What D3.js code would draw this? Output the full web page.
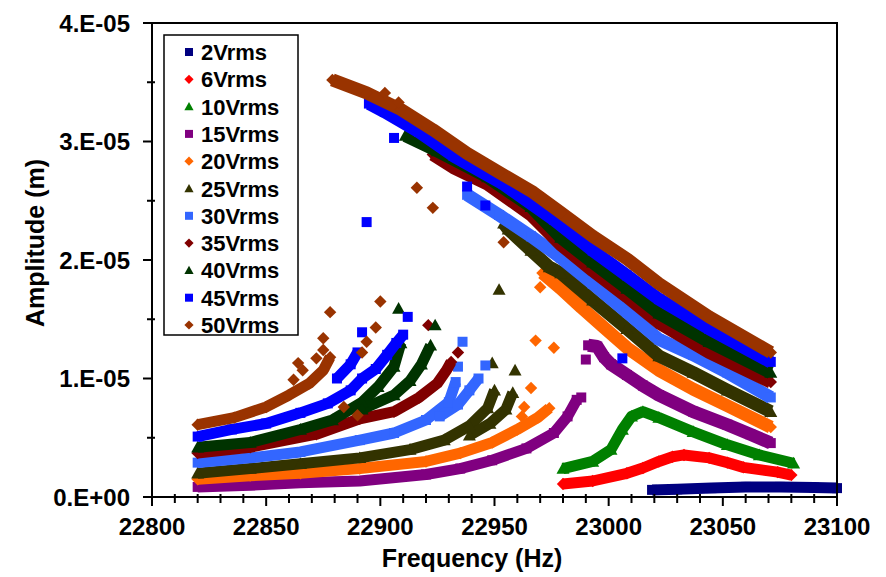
<!DOCTYPE html>
<html>
<head>
<meta charset="utf-8">
<script src="https://cdn.jsdelivr.net/npm/d3@7"></script>
<style>
  body { margin: 0; background: #fff; }
  text { font-family: "Liberation Sans", Arial, sans-serif; font-weight: bold; fill: #000; }
</style>
</head>
<body>
<div id="chart"></div>
<script>
// frequency in Hz, amplitude in units of 1E-05 m
const v2Sweep = [[23019,0.06],[23030,0.065],[23045,0.075],[23060,0.085],[23075,0.085],[23090,0.08],[23100,0.075]];
const v6Sweep = [[22980,0.11],[22993,0.135],[23008,0.20],[23015,0.245],[23022,0.30],[23028,0.34],[23033,0.355],[23044,0.33],[23052,0.29],[23059,0.25],[23074,0.21],[23080,0.185]];
const v10Sweep = [[22980,0.24],[22993,0.30],[23001,0.40],[23006,0.57],[23010,0.68],[23015,0.72],[23022,0.67],[23037,0.55],[23052,0.44],[23066,0.355],[23081,0.285]];

const v15Lower = [[22820,0.085],[22843,0.10],[22865,0.12],[22891,0.135],[22920,0.19],[22935,0.24],[22949,0.31],[22964,0.41],[22976,0.54],[22982,0.68],[22986,0.82]];
const v15Jump = [[22988,0.84],[22990,1.16]];
const v15Upper = [[22991,1.28],[22995,1.27],[22998,1.18],[23001,1.12],[23008,1.03],[23015,0.94],[23022,0.86],[23037,0.72],[23052,0.61],[23062,0.53],[23071,0.455]];

const v20Lower = [[22820,0.15],[22843,0.18],[22865,0.20],[22891,0.24],[22920,0.30],[22935,0.37],[22949,0.46],[22960,0.57],[22969,0.67],[22974,0.75]];
const v20Jump = [[22962,0.68],[22963,0.76],[22966,0.92],[22968,1.32],[22976,1.26],[22970,1.77]];
const v20Upper = [[22971,1.89],[22979,1.76],[22988,1.60],[22998,1.43],[23008,1.26],[23022,1.07],[23037,0.91],[23052,0.77],[23071,0.59]];

const v25Lower = [[22820,0.20],[22843,0.24],[22865,0.28],[22891,0.33],[22913,0.40],[22928,0.48],[22939,0.60],[22947,0.75],[22950,0.90]];
const v25Arm = [[22939,0.52],[22948,0.62],[22955,0.74],[22958,0.88]];
const v25Jump = [[22949,1.13],[22959,1.07],[22952,1.75]];
const v25Upper = [[22954,2.31],[22956,2.26],[22966,2.08],[22974,1.94],[22979,1.89],[22993,1.66],[23008,1.42],[23022,1.19],[23037,1.05],[23052,0.90],[23071,0.72]];

const v30Lower = [[22820,0.29],[22843,0.33],[22865,0.38],[22891,0.48],[22906,0.54],[22920,0.65],[22930,0.80],[22933,0.97]];
const v30Arm = [[22926,0.68],[22934,0.78],[22939,0.90],[22943,1.00]];
const v30Jump = [[22936,1.31],[22934,1.10],[22946,1.11]];
const v30Upper = [[22938,2.55],[22952,2.38],[22966,2.20],[22979,2.02],[22993,1.80],[23008,1.56],[23022,1.33],[23037,1.20],[23052,1.05],[23071,0.84]];

const v35Lower = [[22820,0.37],[22843,0.42],[22872,0.53],[22891,0.66],[22906,0.72],[22917,0.84],[22925,0.96],[22929,1.07],[22931,1.14]];
const v35Jump = [[22934,1.22],[22921,1.45]];
const v35Upper = [[22923,2.89],[22932,2.78],[22947,2.64],[22966,2.38],[22979,2.13],[22993,1.91],[23008,1.69],[23022,1.47],[23044,1.22],[23071,0.97]];

const v40Lower = [[22820,0.42],[22843,0.46],[22865,0.57],[22879,0.65],[22892,0.80],[22899,0.93],[22906,1.10],[22909,1.30]];
const v40Arm = [[22892,0.74],[22906,0.86],[22913,0.98],[22918,1.12],[22922,1.28]];
const v40Jump = [[22908,1.59],[22924,1.45]];
const v40Upper = [[22911,3.05],[22925,2.92],[22947,2.70],[22966,2.45],[22979,2.19],[22993,1.98],[23008,1.76],[23022,1.55],[23044,1.31],[23071,1.05]];

const v45Lower = [[22820,0.51],[22835,0.57],[22850,0.62],[22865,0.71],[22877,0.79],[22887,0.90],[22892,1.00],[22898,1.08],[22903,1.20],[22907,1.30],[22910,1.37]];
const v45Arm = [[22881,1.00],[22887,1.12],[22890,1.22]];
const v45Jump = [[22892,1.39],[22912,1.52],[22894,2.32],[22906,3.03],[22938,2.62],[22946,2.46],[23006,1.17]];
const v45Upper = [[22895,3.32],[22902,3.25],[22917,3.08],[22932,2.88],[22954,2.64],[22976,2.34],[22993,2.08],[23008,1.87],[23022,1.67],[23044,1.42],[23071,1.14]];

const v50Lower = [[22820,0.61],[22836,0.67],[22850,0.76],[22860,0.86],[22869,0.96],[22875,1.07],[22878,1.18]];
const v50Jump = [[22862,0.99],[22864,1.13],[22866,1.07],[22872,1.17],[22875,1.24],[22875,1.34],[22878,1.56],[22884,0.76],[22890,0.69],[22892,1.22],[22894,1.31],[22898,1.43],[22900,1.65],[22902,3.41],[22908,3.33],[22916,2.61],[22923,2.44],[22954,2.15]];
const v50Upper = [[22879,3.52],[22894,3.41],[22909,3.27],[22923,3.10],[22938,2.90],[22952,2.74],[22967,2.57],[22979,2.40],[22993,2.20],[23008,2.01],[23022,1.80],[23044,1.52],[23071,1.22]];

const seriesNames  = ["2Vrms","6Vrms","10Vrms","15Vrms","20Vrms","25Vrms","30Vrms","35Vrms","40Vrms","45Vrms","50Vrms"];
const seriesColors = ["#000080","#ff0000","#008000","#800080","#ff6600","#333300","#3366ff","#800000","#003300","#0000ff","#993300"];
const seriesShapes = ["square","diamond","triangle","square","diamond","triangle","square","diamond","triangle","square","diamond"];
const seriesBands  = [[v2Sweep],[v6Sweep],[v10Sweep],[v15Lower,v15Upper],[v20Lower,v20Upper],[v25Lower,v25Arm,v25Upper],
                      [v30Lower,v30Arm,v30Upper],[v35Lower,v35Upper],[v40Lower,v40Arm,v40Upper],[v45Lower,v45Arm,v45Upper],[v50Lower,v50Upper]];
const seriesJumps  = [[],[],[],v15Jump,v20Jump,v25Jump,v30Jump,v35Jump,v40Jump,v45Jump,v50Jump];

const xTicks = [22800, 22850, 22900, 22950, 23000, 23050, 23100];
const yTicks = [0, 1e-5, 2e-5, 3e-5, 4e-5];
const yTickLabels = ["0.E+00", "1.E-05", "2.E-05", "3.E-05", "4.E-05"];

const width = 886, height = 577;
const plot = { left: 152, right: 837, top: 23, bottom: 497 };

const svg = d3.select("#chart").append("svg")
  .attr("width", width).attr("height", height)
  .style("background", "white");

const x = d3.scaleLinear().domain([22800, 23100]).range([plot.left, plot.right]);
const y = d3.scaleLinear().domain([0, 4e-5]).range([plot.bottom, plot.top]);

function shapePath(shape, h) {
  if (shape === "square") return `M${-h},${-h}h${2*h}v${2*h}h${-2*h}Z`;
  if (shape === "diamond") return `M0,${-h}L${h},0L0,${h}L${-h},0Z`;
  return `M0,${-h}L${h},${h*0.8}L${-h},${h*0.8}Z`;
}
const markerHalf = { square: 5, diamond: 6.2, triangle: 6.5 };

// data: dense sweep points merge into bands, so each branch is a thick stroke plus markers
const line = d3.line().x(d => x(d[0])).y(d => y(d[1] * 1e-5));
const gData = svg.append("g");
seriesNames.forEach((name, i) => {
  const g = gData.append("g").attr("class", "series-" + name);
  seriesBands[i].forEach((band, k) => {
    const upper = k === seriesBands[i].length - 1 && i >= 3;
    g.append("path")
      .attr("d", line(band))
      .attr("fill", "none")
      .attr("stroke", seriesColors[i])
      .attr("stroke-width", upper ? 13 : 11)
      .attr("stroke-linejoin", "round");
  });
  const pts = seriesBands[i].flat().concat(seriesJumps[i]);
  g.selectAll("path.m").data(pts).join("path")
    .attr("class", "m")
    .attr("d", shapePath(seriesShapes[i], markerHalf[seriesShapes[i]]))
    .attr("transform", d => `translate(${x(d[0])},${y(d[1] * 1e-5)})`)
    .attr("fill", seriesColors[i]);
});

// frame
svg.append("path")
  .attr("d", `M${plot.left},${plot.top}H${plot.right}V${plot.bottom}`)
  .attr("fill", "none").attr("stroke", "#000").attr("stroke-width", 2);

// y axis
const yAxis = svg.append("g");
yAxis.append("line")
  .attr("x1", plot.left).attr("x2", plot.left)
  .attr("y1", plot.top).attr("y2", plot.bottom + 1)
  .attr("stroke", "#000").attr("stroke-width", 2);
yAxis.selectAll("line.major").data(yTicks).join("line")
  .attr("class", "major")
  .attr("x1", plot.left - 9).attr("x2", plot.left)
  .attr("y1", d => y(d)).attr("y2", d => y(d))
  .attr("stroke", "#000").attr("stroke-width", 2);
yAxis.selectAll("line.minor").data(d3.range(0.5e-5, 4e-5, 1e-5)).join("line")
  .attr("class", "minor")
  .attr("x1", plot.left - 5).attr("x2", plot.left + 3)
  .attr("y1", d => y(d)).attr("y2", d => y(d))
  .attr("stroke", "#000").attr("stroke-width", 2);
yAxis.selectAll("text").data(yTicks).join("text")
  .attr("x", 130).attr("y", d => y(d) + 8.5)
  .attr("text-anchor", "end")
  .attr("font-size", 24)
  .text((d, i) => yTickLabels[i]);

// x axis
const xAxis = svg.append("g");
xAxis.append("line")
  .attr("x1", plot.left - 9).attr("x2", plot.right)
  .attr("y1", plot.bottom).attr("y2", plot.bottom)
  .attr("stroke", "#000").attr("stroke-width", 2);
xAxis.selectAll("line.major").data(xTicks).join("line")
  .attr("class", "major")
  .attr("x1", d => x(d)).attr("x2", d => x(d))
  .attr("y1", plot.bottom).attr("y2", plot.bottom + 9)
  .attr("stroke", "#000").attr("stroke-width", 2);
xAxis.selectAll("line.minor").data(d3.range(22810, 23100, 10).filter(v => v % 50 !== 0)).join("line")
  .attr("class", "minor")
  .attr("x1", d => x(d)).attr("x2", d => x(d))
  .attr("y1", plot.bottom - 3).attr("y2", plot.bottom + 6)
  .attr("stroke", "#000").attr("stroke-width", 2);
xAxis.selectAll("text").data(xTicks).join("text")
  .attr("x", d => x(d)).attr("y", 535)
  .attr("text-anchor", "middle")
  .attr("font-size", 24)
  .text(d => d);

// axis titles
svg.append("text")
  .attr("x", 472).attr("y", 567)
  .attr("text-anchor", "middle")
  .attr("font-size", 25)
  .text("Frequency (Hz)");
svg.append("text")
  .attr("transform", "translate(44,243) rotate(-90)")
  .attr("text-anchor", "middle")
  .attr("font-size", 25)
  .text("Amplitude (m)");

// legend
const legend = svg.append("g");
legend.append("rect")
  .attr("x", 164).attr("y", 35).attr("width", 134).attr("height", 300)
  .attr("fill", "#fff").attr("stroke", "#000").attr("stroke-width", 1.5);
const rows = legend.selectAll("g.row").data(seriesNames).join("g")
  .attr("class", "row")
  .attr("transform", (d, i) => `translate(0,${52 + i * 27.3})`);
rows.append("path")
  .attr("d", (d, i) => shapePath(seriesShapes[i], seriesShapes[i] === "square" ? 4 : 4.6))
  .attr("transform", "translate(189,0)")
  .attr("fill", (d, i) => seriesColors[i]);
rows.append("text")
  .attr("x", 201).attr("y", 8)
  .attr("font-size", 22)
  .text(d => d);
</script>
</body>
</html>
